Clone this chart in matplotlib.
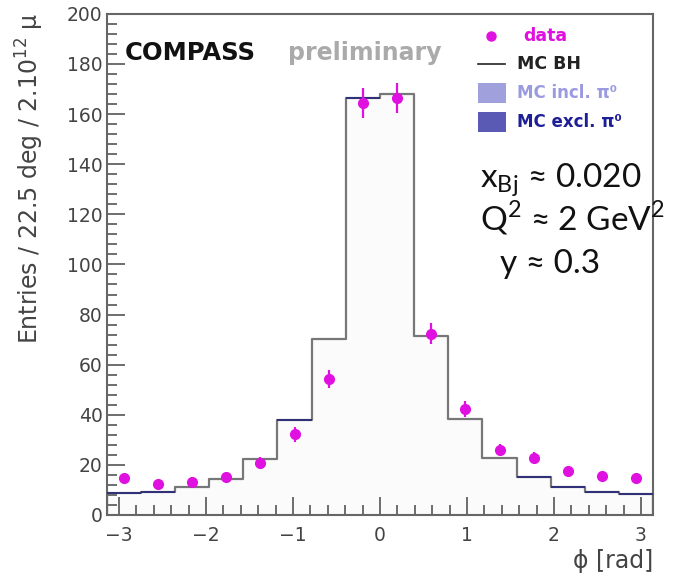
import numpy as np
import matplotlib
matplotlib.use("Agg")
import matplotlib.pyplot as plt
from matplotlib.patches import Rectangle
from matplotlib.ticker import MultipleLocator

# ---- data ----
n_bins = 16
bin_width_deg = 22.5
mc_bh = [8.7, 9.3, 11.0, 14.5, 22.4, 37.9, 70.3, 166.3,
         168.0, 71.5, 38.2, 22.9, 15.0, 11.0, 9.3, 8.4]
# bins where the stacked pi0 outline (navy) is visible on top
pi0_outline_visible = [1, 1, 0, 0, 0, 1, 0, 1,
                       0, 0, 0, 0, 1, 1, 1, 1]
data_vals = [14.6, 12.4, 13.3, 15.0, 20.9, 32.3, 54.3, 164.3,
             166.6, 72.3, 42.3, 25.9, 22.9, 17.6, 15.6, 14.8]
data_err = [1.8, 1.7, 1.8, 2.0, 2.4, 3.0, 3.6, 6.0,
            6.0, 4.2, 3.2, 2.5, 2.3, 2.0, 1.9, 1.8]
y_ticks = [0, 20, 40, 60, 80, 100, 120, 140, 160, 180, 200]
x_ticks = [-3, -2, -1, 0, 1, 2, 3]
x_tick_labels = ['\u22123', '\u22122', '\u22121', '0', '1', '2', '3']

edges = np.linspace(-np.pi, np.pi, n_bins + 1)
centers = 0.5 * (edges[:-1] + edges[1:])

fig = plt.figure(figsize=(6.84, 5.78), dpi=100)
ax = fig.add_axes([0.156, 0.109, 0.799, 0.867])

font = ['DejaVu Sans']
gray = '#777777'

# MC BH histogram
vals_ext = np.append(mc_bh, mc_bh[-1])
ax.fill_between(edges, 0, vals_ext, step='post', color='#fbfbfb', zorder=1)
ax.step(edges, vals_ext, where='post', color=gray, lw=1.6, zorder=2)
ax.vlines([edges[0], edges[-1]], 0, [mc_bh[0], mc_bh[-1]], color=gray, lw=1.6, zorder=2)
# navy outline segments of the pi0 stack
for i in range(n_bins):
    if pi0_outline_visible[i]:
        ax.plot([edges[i], edges[i + 1]], [mc_bh[i], mc_bh[i]], color='#30307a',
                lw=1.4, zorder=3, solid_capstyle='butt')

# data
ax.errorbar(centers, data_vals, yerr=data_err, fmt='o', color='#e010e0',
             ms=7, elinewidth=1.6, capsize=0, zorder=5)

ax.set_xlim(-np.pi, np.pi)
ax.set_ylim(0, 200)
ax.set_xticks(x_ticks)
ax.set_xticklabels(x_tick_labels)
ax.set_yticks(y_ticks)
ax.xaxis.set_minor_locator(MultipleLocator(0.2))
ax.yaxis.set_minor_locator(MultipleLocator(4))
ax.tick_params(which='both', direction='in', color='#555555', width=1.2,
               top=False, right=False)
ax.tick_params(which='major', length=13)
ax.tick_params(which='minor', length=7)
ax.tick_params(axis='x', which='major', pad=8)
ax.tick_params(axis='y', which='major', pad=3)
for lab in ax.get_xticklabels() + ax.get_yticklabels():
    lab.set_fontfamily(font)
    lab.set_fontsize(13.5)
    lab.set_color('#444444')
for sp in ax.spines.values():
    sp.set_color('#666666')
    sp.set_linewidth(1.5)

# axis labels
fig.text(0.043, 0.978, 'Entries / 22.5 deg / 2.10$^{12}$ \u03bc', rotation=90,
         ha='center', va='top', fontsize=17, color='#444444', family=font)
fig.text(0.955, 0.03, '\u03d5 [rad]', ha='right', va='center', fontsize=17,
         color='#444444', family=font)

# COMPASS preliminary
ax.text(0.033, 0.921, 'COMPASS', transform=ax.transAxes, fontsize=17.5,
        fontweight='bold', color='#111111', family=font, va='center')
ax.text(0.332, 0.921, 'preliminary', transform=ax.transAxes, fontsize=17,
        fontweight='bold', color='#aaaaaa', family=font, va='center')

# legend (manual)
def fx(px):
    return (px - 106.7) / (653.3 - 106.7)

def fy(py):
    return (515 - py) / (515 - 14)

ax.plot([fx(491)], [fy(36)], 'o', color='#e010e0', ms=6.5, transform=ax.transAxes, clip_on=False)
ax.text(fx(523), fy(36), 'data', transform=ax.transAxes, fontsize=12.5, fontweight='bold',
        color='#e010e0', family=font, va='center')
ax.plot([fx(478), fx(505)], [fy(64), fy(64)], color='#222222', lw=1.2, transform=ax.transAxes)
ax.text(fx(517), fy(64), 'MC BH', transform=ax.transAxes, fontsize=12.5, fontweight='bold',
        color='#222222', family=font, va='center')
ax.add_patch(Rectangle((fx(478), fy(103)), fx(506) - fx(478), fy(83) - fy(103),
                       transform=ax.transAxes, facecolor='#a0a0dc', edgecolor='none'))
ax.text(fx(517), fy(93), 'MC incl. \u03c0\u2070', transform=ax.transAxes, fontsize=12,
        fontweight='bold', color='#9a9ae0', family=font, va='center')
ax.add_patch(Rectangle((fx(478), fy(132)), fx(506) - fx(478), fy(112) - fy(132),
                       transform=ax.transAxes, facecolor='#5a5ab4', edgecolor='none'))
ax.text(fx(517), fy(122), 'MC excl. \u03c0\u2070', transform=ax.transAxes, fontsize=12,
        fontweight='bold', color='#1e1e96', family=font, va='center')

# kinematics text
kfont = ['Lato', 'DejaVu Sans']
fig.text(480 / 684, 1 - 187 / 578, 'x$_{\\mathregular{Bj}}$ \u2248 0.020', fontsize=24,
         family=kfont, color='#111111', va='baseline')
fig.text(480 / 684, 1 - 230 / 578, 'Q$^{\\mathregular{2}}$ \u2248 2 GeV$^{\\mathregular{2}}$', fontsize=24,
         family=kfont, color='#111111', va='baseline')
fig.text(500 / 684, 1 - 273 / 578, 'y \u2248 0.3', fontsize=24,
         family=kfont, color='#111111', va='baseline')

fig.savefig('out.png', dpi=100, facecolor='white')
